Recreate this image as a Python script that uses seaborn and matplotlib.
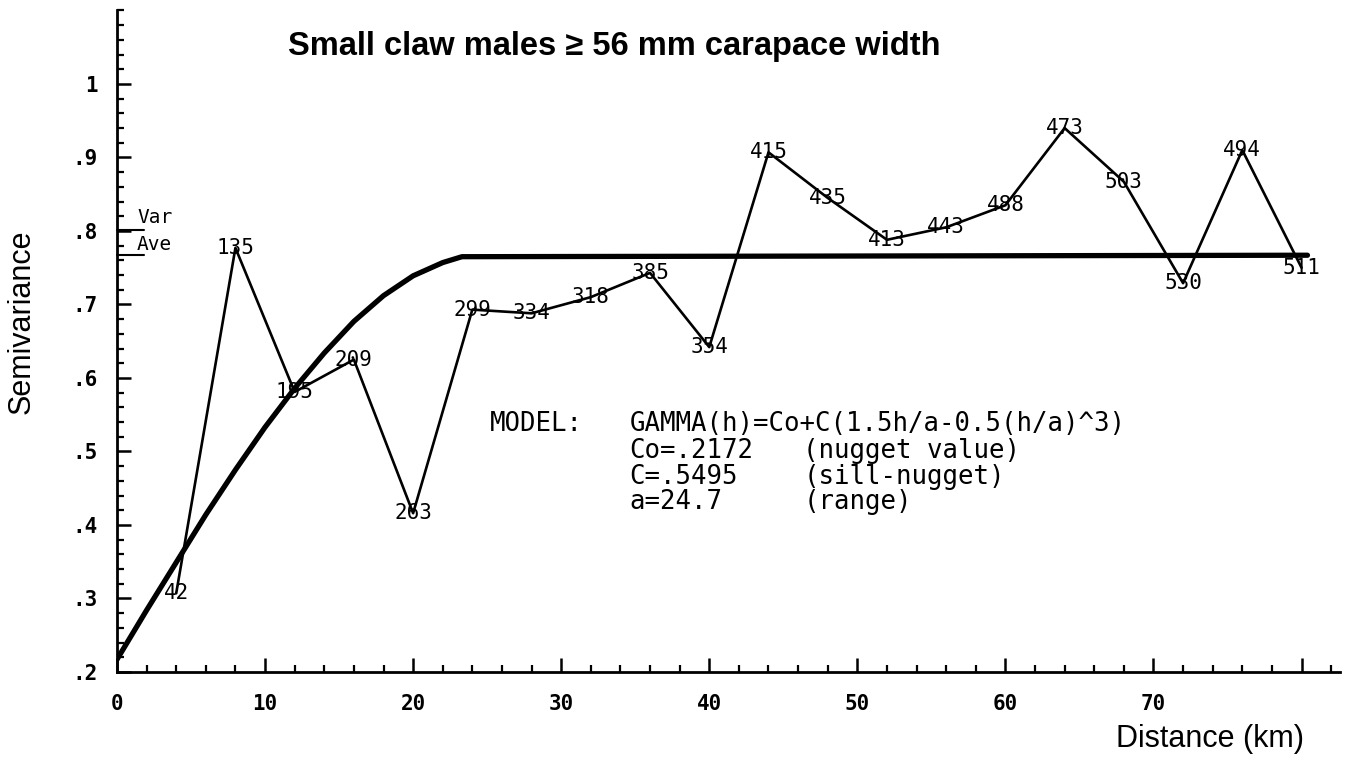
import matplotlib
matplotlib.use("Agg")
import matplotlib.pyplot as plt
import seaborn as sns
import pandas as pd
from matplotlib.ticker import FixedLocator, MultipleLocator

# ---- data ----
lag_km = [4, 8, 12, 16, 20, 24, 28, 32, 36, 40, 44, 48, 52, 56, 60, 64, 68, 72, 76, 80]
semivariance = [0.307, 0.777, 0.581, 0.625, 0.416, 0.693, 0.688, 0.710, 0.743, 0.642,
                0.907, 0.845, 0.788, 0.805, 0.835, 0.940, 0.867, 0.729, 0.910, 0.750]
pair_counts = [42, 135, 195, 209, 263, 299, 334, 318, 385, 354,
               415, 435, 413, 443, 488, 473, 503, 530, 494, 511]

model_h = [0, 2, 4, 6, 8, 10, 12, 14, 16, 18, 20, 22, 23.3, 80.4]
model_gamma = [0.217, 0.284, 0.349, 0.414, 0.475, 0.533, 0.586, 0.634, 0.677,
               0.712, 0.739, 0.757, 0.765, 0.767]

var_level = 0.802
ave_level = 0.767

x_ticks = [0, 10, 20, 30, 40, 50, 60, 70, 80]
x_tick_labels = ["0", "10", "20", "30", "40", "50", "60", "70", ""]
y_ticks = [0.2, 0.3, 0.4, 0.5, 0.6, 0.7, 0.8, 0.9, 1.0]
y_tick_labels = [".2", ".3", ".4", ".5", ".6", ".7", ".8", ".9", "1"]

title = "Small claw males \u2265 56 mm carapace width"

# ---- figure ----
sns.set_style("white")
plt.rcParams["font.family"] = ["Liberation Sans", "DejaVu Sans"]
plt.rcParams["text.color"] = "black"
plt.rcParams["axes.labelcolor"] = "black"
plt.rcParams["xtick.color"] = "black"
plt.rcParams["ytick.color"] = "black"
MONO = "DejaVu Sans Mono"

fig = plt.figure(figsize=(13.57, 7.70), dpi=100)
ax = fig.add_axes([0.0862, 0.1273, 0.9013, 0.8591])

obs = pd.DataFrame({"lag": lag_km, "gamma": semivariance})
mod = pd.DataFrame({"h": model_h, "gamma": model_gamma})

sns.lineplot(data=obs, x="lag", y="gamma", ax=ax, color="black", lw=1.9,
             estimator=None, sort=False)
sns.lineplot(data=mod, x="h", y="gamma", ax=ax, color="black", lw=3.8,
             estimator=None, sort=False)

for xv, yv, n in zip(lag_km, semivariance, pair_counts):
    ax.text(xv, yv, str(n), ha="center", va="center", fontsize=15,
            family=MONO, color="black")

# Var / Ave marks on the y axis
ax.plot([0, 1.8], [var_level, var_level], color="black", lw=1.5, clip_on=False)
ax.plot([0, 1.8], [ave_level, ave_level], color="black", lw=1.5, clip_on=False)
ax.text(1.35, var_level + 0.016, "Var", family=MONO, fontsize=14, ha="left", va="center")
ax.text(1.35, ave_level + 0.015, "Ave", family=MONO, fontsize=14, ha="left", va="center")

# model text block
mfs = 18.5
ax.text(25.2, 0.537, "MODEL:", family=MONO, fontsize=mfs, va="center")
ax.text(34.6, 0.537, "GAMMA(h)=Co+C(1.5h/a-0.5(h/a)^3)", family=MONO, fontsize=mfs, va="center")
ax.text(34.6, 0.501, "Co=.2172", family=MONO, fontsize=mfs, va="center")
ax.text(46.35, 0.501, "(nugget value)", family=MONO, fontsize=mfs, va="center")
ax.text(34.6, 0.465, "C=.5495", family=MONO, fontsize=mfs, va="center")
ax.text(46.35, 0.465, "(sill-nugget)", family=MONO, fontsize=mfs, va="center")
ax.text(34.6, 0.431, "a=24.7", family=MONO, fontsize=mfs, va="center")
ax.text(46.35, 0.431, "(range)", family=MONO, fontsize=mfs, va="center")

# axes styling
ax.set_xlim(0, 82.6)
ax.set_ylim(0.2, 1.1)
for s in ["top", "right"]:
    ax.spines[s].set_visible(False)
for s in ["left", "bottom"]:
    ax.spines[s].set_color("black")
    ax.spines[s].set_linewidth(2.0)

ax.xaxis.set_major_locator(FixedLocator(x_ticks))
ax.xaxis.set_minor_locator(MultipleLocator(2))
ax.yaxis.set_major_locator(FixedLocator(y_ticks))
ax.yaxis.set_minor_locator(MultipleLocator(0.02))
ax.set_xticklabels(x_tick_labels, family=MONO, fontsize=15, fontweight="bold")
ax.set_yticklabels(y_tick_labels, family=MONO, fontsize=15, fontweight="bold")
ax.tick_params(axis="both", which="both", bottom=True, left=True, top=False, right=False)
ax.tick_params(axis="both", which="major", direction="in", length=10, width=1.8,
               color="black", labelcolor="black")
ax.tick_params(axis="both", which="minor", direction="in", length=5, width=1.6,
               color="black")
ax.tick_params(axis="x", which="major", pad=16)
ax.tick_params(axis="y", which="major", pad=14)

ax.set_xlabel("Distance (km)", fontsize=22, color="black")
ax.xaxis.set_label_coords(0.894, -0.078)
ax.set_ylabel("Semivariance", fontsize=22, color="black")
ax.yaxis.set_label_coords(-0.066, 0.53)

t = ax.set_title(title, loc="left", fontsize=23.5, fontweight="bold", y=0.92,
                 color="black")
t.set_x(0.14)

fig.savefig("out.png", dpi=100, facecolor="white")
